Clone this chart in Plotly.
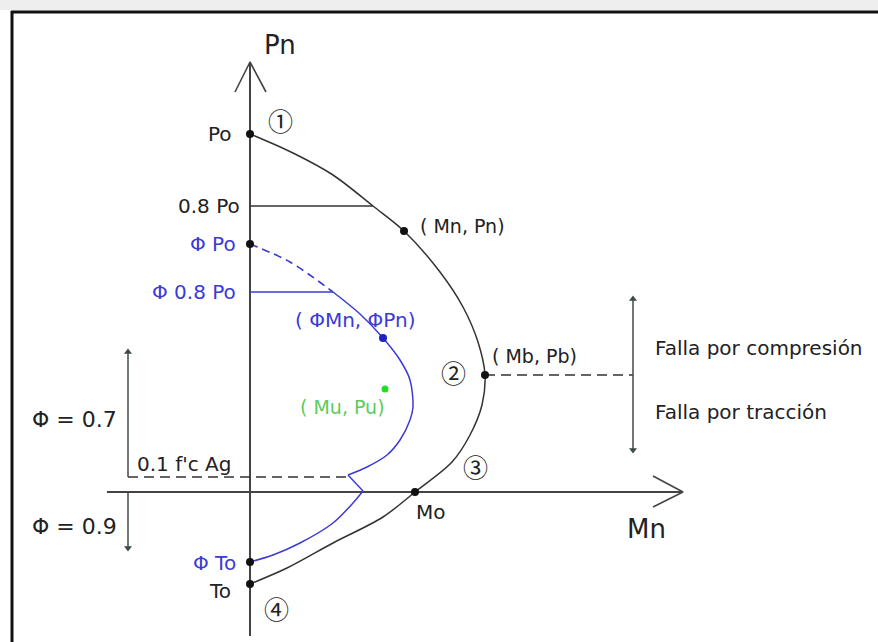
import plotly.graph_objects as go

# ---------------- data (diagram units: M to the right, P upward, origin at axes crossing)
outer_M = [0, 43, 83, 123, 154, 190, 213, 228, 235, 232, 220, 202, 165, 133, 83, 37, 0]
outer_P = [358, 339, 317, 286, 261, 220, 185, 150, 117, 87, 57, 30, 0, -25, -51, -76, -92]

phi_dash_M = [0, 40, 83]
phi_dash_P = [248, 230, 200]
phi_up_M = [83, 110, 133, 150, 160, 163, 160, 150, 137, 117, 98]
phi_up_P = [200, 178, 154, 132, 112, 85, 72, 52, 37, 25, 17]
phi_kink_M = [98, 113]
phi_kink_P = [17, 1]
phi_low_M = [113, 103, 83, 50, 23, 0]
phi_low_P = [1, -11, -31, -51, -63, -70]

Po, P08, phiPo, phiP08 = 358, 286, 248, 200
Pb, Mb = 117, 235
Mo, To, phiTo = 165, -92, -70
Mn_pt, Pn_pt = 154, 261
phiMn_pt, phiPn_pt = 133, 154
Mu, Pu = 135, 103
P01 = 15
Mx_08, phiMx_08 = 123, 83
side_x, right_x = -122, 383

BLK = "#333333"
BLUE = "#3b3bd6"
GREEN = "#22dd22"
ARR = "#3f4a4a"
FONT = "DejaVu Sans"
CJK = "Noto Sans CJK JP"

fig = go.Figure()

def line(x, y, color=BLK, width=1.6, dash=None, shape="linear"):
    fig.add_trace(go.Scatter(x=x, y=y, mode="lines",
                             line=dict(color=color, width=width, dash=dash, shape=shape, smoothing=0.9),
                             hoverinfo="skip", showlegend=False))

def dots(x, y, color="#111111", size=8, symbol="circle"):
    fig.add_trace(go.Scatter(x=x, y=y, mode="markers",
                             marker=dict(color=color, size=size, symbol=symbol),
                             hoverinfo="skip", showlegend=False))

# axes
line([0, 0], [-144, 430], color="#444444", width=2)
line([-15, 0, 16], [400, 430, 400], color="#444444", width=1.6)
line([-143, 433], [0, 0], color="#444444", width=2)
line([403, 433, 403], [16, 0, -15], color="#444444", width=1.6)

# outer nominal curve
line(outer_M, outer_P, color=BLK, width=1.5, shape="spline")
line([0, Mx_08], [P08, P08], color=BLK, width=1.5)

# design (phi) curve
line(phi_dash_M, phi_dash_P, color=BLUE, width=1.6, dash="8px,5px", shape="spline")
line(phi_up_M, phi_up_P, color=BLUE, width=1.5, shape="spline")
line(phi_kink_M, phi_kink_P, color=BLUE, width=1.5)
line(phi_low_M, phi_low_P, color=BLUE, width=1.5, shape="spline")
line([0, phiMx_08], [phiP08, phiP08], color=BLUE, width=1.5)

# 0.1 f'c Ag dashed and side arrows
line([side_x, phi_up_M[-1]], [P01, P01], color=BLK, width=1.5, dash="10px,6px")
line([side_x, side_x], [P01, 142], color=ARR, width=1.5)
line([side_x, side_x], [0, -58], color=ARR, width=1.5)
dots([side_x], [140], color=ARR, size=7, symbol="triangle-up")
dots([side_x], [-56], color=ARR, size=7, symbol="triangle-down")

# balanced point dashed + right arrow
line([Mb, right_x], [Pb, Pb], color=BLK, width=1.5, dash="10px,6px")
line([right_x, right_x], [40, 195], color=ARR, width=1.5)
dots([right_x], [193], color=ARR, size=7, symbol="triangle-up")
dots([right_x], [42], color=ARR, size=7, symbol="triangle-down")

# points
dots([0, Mn_pt, Mb, Mo, 0, 0, 0], [Po, Pn_pt, Pb, 0, To, phiPo, phiTo])
dots([phiMn_pt], [phiPn_pt], color="#2020c8", size=8)
dots([Mu], [Pu], color=GREEN, size=7)

def txt(x, y, s, size=20, color="#222222", xa="center", family=FONT):
    fig.add_annotation(x=x, y=y, text=s, showarrow=False, xanchor=xa, yanchor="middle",
                       font=dict(family=family, size=size, color=color))

txt(30, 447, "Pn", size=26)
txt(396, -37, "Mn", size=26)
txt(-16, Po, "Po", xa="right")
txt(-8, P08, "0.8 Po", xa="right")
txt(-12, phiPo, "Φ Po", xa="right", color=BLUE)
txt(-12, phiP08, "Φ 0.8 Po", xa="right", color=BLUE)
txt(168, 266, "( Mn, Pn)", xa="left", size=19)
txt(43, 172, "( ΦMn, ΦPn)", xa="left", color=BLUE, size=20)
txt(48, 85, "( Mu, Pu)", xa="left", color="#5ccc5c", size=19)
txt(240, 136, "( Mb, Pb)", xa="left", size=19)
txt(403, 144, "Falla por compresión", xa="left", size=20)
txt(403, 80, "Falla por tracción", xa="left", size=20)
txt(181, -20, "Mo")
txt(-12, -71, "Φ To", xa="right", color=BLUE)
txt(-17, -99, "To", xa="right")
txt(-115, 28, "0.1 f'c Ag", xa="left", size=20)
txt(-220, 73, "Φ = 0.7", xa="left", size=22)
txt(-220, -34, "Φ = 0.9", xa="left", size=22)
txt(30, 372, "①", size=25, family=CJK)
txt(203, 120, "②", size=25, family=CJK)
txt(225, 26, "③", size=25, family=CJK)
txt(26, -116, "④", size=25, family=CJK)

W, H = 878, 642
fig.update_layout(
    width=W, height=H, autosize=False,
    margin=dict(l=0, r=0, t=0, b=0),
    paper_bgcolor="white", plot_bgcolor="white",
    xaxis=dict(visible=False, range=[-250, 628], fixedrange=True),
    yaxis=dict(visible=False, range=[-150, 492], fixedrange=True),
    hovermode=False,
    shapes=[
        dict(type="rect", xref="paper", yref="paper", x0=0, x1=1, y0=1 - 10 / H, y1=1,
             fillcolor="#eeeeee", line=dict(width=0), layer="below"),
        dict(type="line", xref="paper", yref="paper", x0=11 / W, x1=1, y0=1 - 12 / H, y1=1 - 12 / H,
             line=dict(color="#111111", width=3)),
        dict(type="line", xref="paper", yref="paper", x0=12 / W, x1=12 / W, y0=0, y1=1 - 11 / H,
             line=dict(color="#111111", width=3)),
    ],
)

fig.write_html("out.html", config={"displayModeBar": False},
               post_script="document.body.style.margin='0';document.body.style.overflow='hidden';")
